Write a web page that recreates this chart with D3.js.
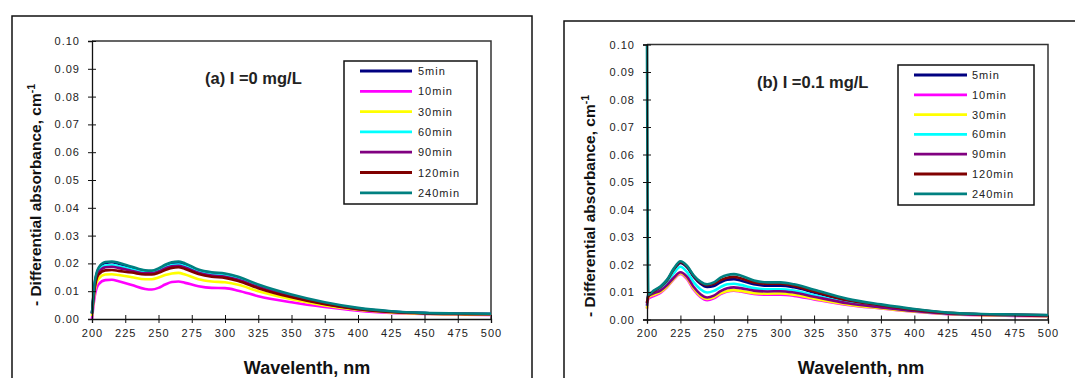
<!DOCTYPE html>
<html><head><meta charset="utf-8">
<script src="https://cdn.jsdelivr.net/npm/d3@7"></script>
<style>
html,body{margin:0;padding:0;background:#fff;}
svg{display:block;}
text{font-family:Arial,"Liberation Sans",sans-serif;}
</style></head>
<body>
<svg id="chart" width="1075" height="378"></svg>
<script>
// ---------- DATA ----------
const seriesNames = ["5min","10min","30min","60min","90min","120min","240min"];
const seriesColors = ["#000080","#ff00ff","#ffff00","#00ffff","#800080","#800000","#008080"];
const xTickValues = [200,225,250,275,300,325,350,375,400,425,450,475,500];
const yTickValues = [0,0.01,0.02,0.03,0.04,0.05,0.06,0.07,0.08,0.09,0.10];

// Panel (a) I = 0 mg/L
const wavelengthsA = [200,202,205,210,215,220,230,240,245,250,255,260,265,270,280,290,300,310,325,350,375,400,425,450,475,500];
const a5min   = [0.002,0.0125,0.018,0.0202,0.0204,0.0199,0.0185,0.0172,0.0171,0.0178,0.0190,0.0198,0.0200,0.0194,0.0172,0.0162,0.0158,0.0147,0.0119,0.0084,0.0057,0.0038,0.0027,0.0021,0.0019,0.0018];
const a10min  = [0.000,0.008,0.0125,0.0140,0.0141,0.0136,0.0122,0.0108,0.0106,0.0112,0.0124,0.0133,0.0135,0.0130,0.0118,0.0112,0.0111,0.0102,0.0082,0.0060,0.0043,0.0030,0.0022,0.0018,0.0016,0.0015];
const a30min  = [0.001,0.010,0.0145,0.0160,0.0161,0.0158,0.0150,0.0143,0.0143,0.0149,0.0158,0.0164,0.0166,0.0160,0.0143,0.0135,0.0132,0.0123,0.0100,0.0071,0.0049,0.0033,0.0024,0.0019,0.0017,0.0016];
const a60min  = [0.002,0.012,0.0172,0.0192,0.0194,0.0190,0.0178,0.0168,0.0167,0.0175,0.0186,0.0194,0.0196,0.0190,0.0170,0.0160,0.0156,0.0145,0.0118,0.0083,0.0056,0.0037,0.0026,0.0021,0.0019,0.0018];
const a90min  = [0.002,0.0115,0.0168,0.0186,0.0188,0.0184,0.0173,0.0164,0.0164,0.0171,0.0182,0.0190,0.0191,0.0185,0.0166,0.0156,0.0152,0.0141,0.0115,0.0081,0.0055,0.0036,0.0026,0.0021,0.0019,0.0018];
const a120min = [0.002,0.011,0.016,0.0175,0.0176,0.0173,0.0167,0.0160,0.0160,0.0166,0.0176,0.0184,0.0186,0.0180,0.0162,0.0152,0.0148,0.0137,0.0111,0.0078,0.0053,0.0035,0.0025,0.0020,0.0018,0.0017];
const a240min = [0.002,0.013,0.0185,0.0205,0.0207,0.0202,0.0188,0.0175,0.0174,0.0182,0.0195,0.0204,0.0207,0.0200,0.0178,0.0168,0.0164,0.0152,0.0124,0.0088,0.0060,0.0040,0.0028,0.0022,0.0020,0.0019];

// Panel (b) I = 0.1 mg/L
const wavelengthsB = [200,201,205,210,215,220,225,230,235,240,245,250,255,260,265,270,280,290,300,310,325,350,375,400,425,450,475,500];
const b5min   = [0.006,0.009,0.010,0.0115,0.014,0.018,0.0206,0.019,0.0155,0.013,0.0118,0.0122,0.0135,0.0145,0.0147,0.0142,0.0128,0.0123,0.0123,0.0117,0.0098,0.0068,0.0050,0.0035,0.0023,0.0019,0.0017,0.0015];
const b10min  = [0.004,0.0075,0.0085,0.0097,0.0118,0.0146,0.0166,0.0147,0.0108,0.0082,0.0070,0.0077,0.0092,0.0102,0.0105,0.0102,0.0093,0.0090,0.0090,0.0086,0.0073,0.0053,0.0040,0.0028,0.0019,0.0015,0.0013,0.0012];
const b30min  = [0.004,0.008,0.009,0.0100,0.0120,0.0148,0.0168,0.0150,0.0112,0.0086,0.0075,0.0081,0.0095,0.0104,0.0107,0.0104,0.0096,0.0094,0.0095,0.0090,0.0076,0.0055,0.0041,0.0029,0.0020,0.0016,0.0014,0.0012];
const b60min  = [0.005,0.009,0.0098,0.011,0.0132,0.0168,0.0192,0.0172,0.0135,0.0110,0.0098,0.0104,0.0118,0.0128,0.0130,0.0126,0.0114,0.0110,0.0110,0.0105,0.0088,0.0062,0.0046,0.0032,0.0022,0.0018,0.0016,0.0014];
const b90min  = [0.005,0.0085,0.0095,0.0105,0.0125,0.0152,0.0172,0.0155,0.0118,0.0092,0.0080,0.0087,0.0103,0.0114,0.0117,0.0114,0.0105,0.0102,0.0103,0.0098,0.0083,0.0059,0.0044,0.0031,0.0021,0.0017,0.0015,0.0013];
const b120min = [0.006,0.0085,0.0102,0.0118,0.0142,0.0182,0.0208,0.0192,0.0158,0.0135,0.0125,0.0130,0.0143,0.0152,0.0155,0.0150,0.0135,0.0130,0.0130,0.0122,0.0102,0.0070,0.0052,0.0036,0.0024,0.0019,0.0017,0.0015];
const b240min = [0.100,0.009,0.0105,0.012,0.0145,0.0185,0.0212,0.0195,0.016,0.0138,0.0128,0.0135,0.0152,0.0162,0.0165,0.0160,0.0142,0.0135,0.0135,0.0128,0.0108,0.0075,0.0055,0.0038,0.0025,0.0020,0.0018,0.0016];

// ---------- DRAW ----------
const svg = d3.select("#chart");

function drawPanel(cfg){
  const g = svg.append("g");
  g.append("rect").attr("x",cfg.frame[0]).attr("y",cfg.frame[1]).attr("width",cfg.frame[2]).attr("height",cfg.frame[3])
    .attr("fill","none").attr("stroke","#111").attr("stroke-width",1.5);

  const x = d3.scaleLinear().domain([200,500]).range([cfg.left,cfg.right]);
  const y = d3.scaleLinear().domain([0,0.10]).range([cfg.bottom,cfg.top]);

  g.append("path").attr("d",`M${cfg.left},${cfg.top}H${cfg.right}V${cfg.bottom}`)
    .attr("fill","none").attr("stroke","#333").attr("stroke-width",1.5);

  const line = d3.line().x((d)=>x(d[0])).y((d)=>y(d[1])).curve(d3.curveMonotoneX);
  cfg.series.forEach((vals,i)=>{
    const pts = cfg.wl.map((w,j)=>[w,vals[j]]);
    g.append("path").datum(pts).attr("d",line).attr("fill","none")
      .attr("stroke",seriesColors[i]).attr("stroke-width",2.6).attr("stroke-linejoin","round");
  });

  const ya = g.append("g").attr("transform",`translate(${cfg.left},0)`)
    .call(d3.axisLeft(y).tickValues(yTickValues).tickFormat(d3.format(".2f")).tickSize(4).tickPadding(8));
  const xa = g.append("g").attr("transform",`translate(0,${cfg.bottom})`)
    .call(d3.axisBottom(x).tickValues(xTickValues).tickFormat(d3.format("d")).tickSize(4).tickPadding(6));
  [ya,xa].forEach(a=>{
    a.select(".domain").attr("stroke","#111").attr("stroke-width",1.3);
    a.selectAll("text").attr("font-size",11).attr("fill","#222").style("letter-spacing","1px")
      .style("font-family","Arial, 'Liberation Sans', sans-serif");
  });
  ya.selectAll(".tick line").attr("x1",4).attr("x2",-4).attr("stroke","#111");
  xa.selectAll(".tick line").attr("y1",-4).attr("y2",4).attr("stroke","#111");

  g.append("text").attr("x",cfg.titleX).attr("y",cfg.titleY).attr("font-size",16.5).attr("font-weight","bold")
    .attr("fill","#222").text(cfg.title);

  g.append("text").attr("x",cfg.xLabelX).attr("y",cfg.xLabelY).attr("text-anchor","middle")
    .attr("font-size",18).attr("font-weight","bold").attr("fill","#111").text("Wavelenth, nm");
  const yl = g.append("text").attr("transform",`translate(${cfg.yLabelX},${cfg.yLabelY}) rotate(-90)`)
    .attr("text-anchor","middle").attr("font-size",15.5).attr("font-weight","bold").attr("fill","#111");
  yl.append("tspan").text("- Differential absorbance, cm");
  yl.append("tspan").attr("dy",-6).attr("font-size",10.5).text("-1");

  const L = cfg.legend;
  g.append("rect").attr("x",L.x).attr("y",L.y).attr("width",L.w).attr("height",L.h)
    .attr("fill","#fff").attr("stroke","#111").attr("stroke-width",1.5);
  seriesNames.forEach((n,i)=>{
    const yy = L.y0 + i*L.dy;
    g.append("line").attr("x1",L.lx1).attr("x2",L.lx2).attr("y1",yy).attr("y2",yy)
      .attr("stroke",seriesColors[i]).attr("stroke-width",2.8);
    g.append("text").attr("x",L.tx).attr("y",yy+4).attr("font-size",11).attr("fill","#222")
      .style("letter-spacing","1px").text(n);
  });
}

drawPanel({
  frame:[12,16,520,400],
  left:92,right:491,top:41,bottom:319,
  wl:wavelengthsA,
  series:[a5min,a10min,a30min,a60min,a90min,a120min,a240min],
  title:"(a) I =0 mg/L", titleX:205, titleY:84,
  xLabelX:307, xLabelY:374,
  yLabelX:41, yLabelY:195,
  legend:{x:344,y:61,w:133,h:143,y0:71,dy:20.3,lx1:360,lx2:412,tx:418}
});
drawPanel({
  frame:[564,21,560,400],
  left:647,right:1048,top:44.5,bottom:319.5,
  wl:wavelengthsB,
  series:[b5min,b10min,b30min,b60min,b90min,b120min,b240min],
  title:"(b) I =0.1 mg/L", titleX:757, titleY:88,
  xLabelX:861, xLabelY:374,
  yLabelX:595, yLabelY:206,
  legend:{x:898,y:65,w:136,h:140,y0:75,dy:19.8,lx1:914,lx2:967,tx:972}
});
</script>
</body></html>
